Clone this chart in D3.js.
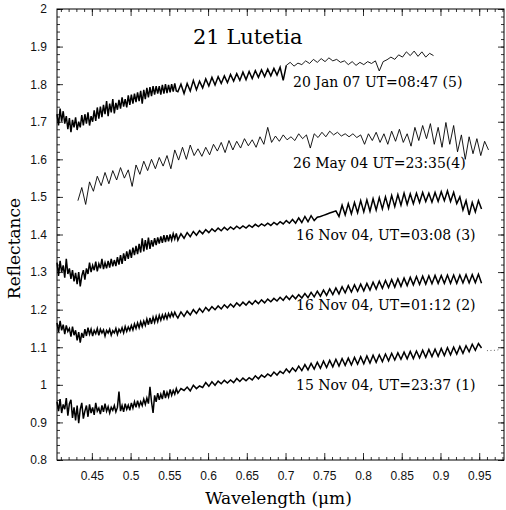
<!DOCTYPE html>
<html>
<head>
<meta charset="utf-8">
<script src="https://d3js.org/d3.v7.min.js"></script>
<style>
  body { margin: 0; background: #fff; }
  .tick text { font-family: "Liberation Sans", Arial, sans-serif; font-size: 12px; fill: #111; }
  .serif { font-family: "DejaVu Serif", serif; fill: #000; }
</style>
</head>
<body>
<div id="chart"></div>
<script>

// ------------------------------------------------------------------------ //
// DATA
// ------------------------------------------------------------------------ //

// wavelength grids (start, step) of the spectra
var gridL = [0.405, 0.002]   // dense blue part
var gridR = [0.561, 0.004]   // red part
var grid4 = [0.432, 0.005]
var grid5b = [0.701, 0.005]

// 15 Nov 04, UT=23:37 (1)
var spec1L = [0.955,0.93,0.962,0.925,0.948,0.935,0.965,0.918,0.95,0.96,
  0.912,0.94,0.905,0.945,0.898,0.935,0.952,0.91,0.93,0.945,
  0.915,0.948,0.925,0.94,0.92,0.952,0.93,0.938,0.922,0.945,
  0.928,0.95,0.93,0.942,0.925,0.94,0.932,0.945,0.928,0.94,
  0.982,0.93,0.945,0.928,0.95,0.935,0.946,0.932,0.952,0.938,
  0.955,0.94,0.958,0.942,0.955,0.945,0.962,0.948,0.965,0.95,
  0.995,0.955,0.925,0.972,0.955,0.978,0.96,0.975,0.962,0.985,
  0.965,0.98,0.968,0.988,0.972,0.985,0.975,0.99]
var spec1R = [0.978,0.99,0.985,0.994,0.984,0.999,0.99,0.997,0.993,1.006,
  0.996,1.008,0.999,1.01,1.003,1.012,1.005,1.013,1.006,1.017,
  1.009,1.018,1.011,1.019,1.013,1.024,1.016,1.026,1.02,1.029,
  1.023,1.034,1.026,1.036,1.03,1.042,1.033,1.045,1.036,1.05,
  1.038,1.054,1.04,1.057,1.042,1.06,1.044,1.063,1.046,1.065,
  1.048,1.068,1.05,1.07,1.052,1.071,1.053,1.073,1.055,1.075,
  1.056,1.077,1.058,1.079,1.06,1.08,1.062,1.082,1.064,1.084,
  1.066,1.085,1.068,1.087,1.069,1.089,1.07,1.09,1.072,1.092,
  1.073,1.094,1.075,1.095,1.076,1.097,1.078,1.099,1.08,1.1,
  1.082,1.102,1.084,1.104,1.088,1.108,1.092,1.11,1.098]

// 16 Nov 04, UT=01:12 (2)
var spec2L = [1.165,1.14,1.17,1.145,1.16,1.135,1.158,1.142,1.15,1.128,
  1.155,1.132,1.145,1.118,1.14,1.112,1.138,1.125,1.148,1.13,
  1.152,1.135,1.148,1.13,1.145,1.136,1.15,1.132,1.148,1.138,
  1.146,1.13,1.145,1.138,1.148,1.132,1.144,1.138,1.15,1.134,
  1.148,1.14,1.152,1.138,1.155,1.142,1.154,1.145,1.158,1.146,
  1.162,1.15,1.165,1.152,1.168,1.155,1.17,1.158,1.175,1.16,
  1.178,1.162,1.18,1.166,1.182,1.168,1.185,1.172,1.186,1.175,
  1.188,1.176,1.19,1.18,1.192,1.182,1.193,1.184]
var spec2R = [1.178,1.194,1.182,1.196,1.186,1.2,1.19,1.203,1.193,1.206,
  1.197,1.208,1.2,1.21,1.202,1.213,1.205,1.215,1.207,1.218,
  1.21,1.22,1.212,1.222,1.214,1.224,1.216,1.226,1.218,1.228,
  1.221,1.23,1.223,1.233,1.225,1.236,1.227,1.238,1.229,1.24,
  1.231,1.243,1.232,1.246,1.234,1.249,1.236,1.252,1.238,1.255,
  1.24,1.258,1.242,1.261,1.245,1.264,1.247,1.266,1.249,1.268,
  1.25,1.27,1.252,1.273,1.255,1.276,1.257,1.278,1.259,1.28,
  1.26,1.282,1.262,1.284,1.264,1.286,1.266,1.288,1.267,1.289,
  1.268,1.29,1.269,1.291,1.27,1.291,1.27,1.292,1.27,1.292,
  1.27,1.292,1.271,1.293,1.271,1.293,1.272,1.294,1.27]

// 16 Nov 04, UT=03:08 (3)
var spec3L = [1.325,1.29,1.33,1.3,1.318,1.285,1.335,1.295,1.31,1.282,
  1.305,1.275,1.298,1.268,1.3,1.262,1.29,1.305,1.28,1.31,
  1.295,1.325,1.3,1.318,1.305,1.328,1.302,1.322,1.31,1.335,
  1.308,1.325,1.31,1.33,1.312,1.335,1.315,1.332,1.316,1.34,
  1.32,1.345,1.322,1.35,1.33,1.355,1.335,1.36,1.338,1.365,
  1.345,1.37,1.348,1.375,1.352,1.39,1.355,1.385,1.36,1.392,
  1.362,1.385,1.368,1.39,1.372,1.392,1.376,1.395,1.378,1.398,
  1.38,1.398,1.382,1.4,1.385,1.402,1.388,1.403]
var spec3R = [1.385,1.402,1.39,1.405,1.394,1.408,1.398,1.41,1.402,1.413,
  1.405,1.415,1.408,1.417,1.41,1.419,1.412,1.42,1.414,1.422,
  1.416,1.423,1.417,1.425,1.419,1.427,1.421,1.428,1.423,1.43,
  1.424,1.432,1.426,1.434,1.428,1.437,1.43,1.44,1.43,1.444,
  1.432,1.448,1.434,1.45,1.437,1.446,1.448,1.451,1.454,1.457,
  1.46,1.463,1.448,1.478,1.452,1.482,1.455,1.485,1.458,1.49,
  1.46,1.492,1.462,1.495,1.465,1.498,1.468,1.5,1.47,1.504,
  1.474,1.506,1.478,1.51,1.48,1.508,1.482,1.51,1.485,1.512,
  1.488,1.51,1.486,1.512,1.488,1.514,1.49,1.516,1.488,1.512,
  1.482,1.5,1.465,1.49,1.452,1.485,1.46,1.49,1.468]

// 26 May 04 UT=23:35(4)
var spec4 = [1.49,1.525,1.48,1.54,1.515,1.555,1.53,1.565,1.535,1.57,
  1.545,1.578,1.55,1.572,1.528,1.585,1.56,1.595,1.57,1.6,
  1.575,1.605,1.582,1.61,1.575,1.625,1.598,1.632,1.6,1.638,
  1.61,1.628,1.608,1.632,1.612,1.64,1.622,1.645,1.618,1.65,
  1.625,1.648,1.63,1.655,1.636,1.652,1.632,1.66,1.64,1.685,
  1.645,1.662,1.648,1.665,1.652,1.66,1.65,1.668,1.655,1.665,
  1.63,1.668,1.658,1.672,1.66,1.675,1.665,1.672,1.662,1.668,
  1.66,1.668,1.658,1.665,1.64,1.668,1.65,1.672,1.645,1.668,
  1.64,1.675,1.648,1.68,1.645,1.668,1.635,1.685,1.65,1.69,
  1.655,1.695,1.64,1.685,1.632,1.698,1.64,1.69,1.62,1.665,
  1.6,1.66,1.615,1.655,1.61,1.648,1.625]

// 20 Jan 07 UT=08:47 (5): dense part, then sparse part
var spec5L = [1.72,1.69,1.735,1.7,1.728,1.695,1.715,1.68,1.71,1.672,
  1.705,1.685,1.712,1.678,1.7,1.685,1.718,1.69,1.72,1.695,
  1.725,1.69,1.715,1.7,1.73,1.702,1.738,1.708,1.74,1.712,
  1.745,1.72,1.755,1.715,1.748,1.725,1.76,1.722,1.75,1.732,
  1.758,1.735,1.765,1.74,1.76,1.738,1.77,1.745,1.772,1.748,
  1.775,1.752,1.778,1.755,1.782,1.748,1.785,1.76,1.79,1.765,
  1.792,1.768,1.795,1.772,1.795,1.775,1.795,1.772,1.798,1.775,
  1.8,1.776,1.798,1.778,1.8,1.78,1.802,1.782]
var spec5R = [1.78,1.8,1.775,1.802,1.782,1.81,1.785,1.808,1.79,1.814,
  1.795,1.818,1.798,1.82,1.802,1.822,1.804,1.826,1.808,1.828,
  1.81,1.832,1.812,1.834,1.815,1.836,1.818,1.838,1.82,1.84,
  1.822,1.842,1.824,1.845,1.81,1.85]
var spec5b = [1.85,1.858,1.848,1.856,1.852,1.862,1.855,1.866,1.858,1.868,
  1.86,1.87,1.862,1.866,1.858,1.862,1.852,1.86,1.85,1.858,
  1.852,1.86,1.855,1.862,1.835,1.86,1.865,1.872,1.866,1.878,
  1.872,1.886,1.876,1.888,1.874,1.886,1.872,1.882,1.876]

// short dotted piece right of spectrum (1)
var tailWl = [0.96, 0.972, 0.978]
var tailVal = [1.091, 1.092, 1.095]

var labels = ["20 Jan 07 UT=08:47 (5)", "26 May 04 UT=23:35(4)",
  "16 Nov 04, UT=03:08 (3)", "16 Nov 04, UT=01:12 (2)", "15 Nov 04, UT=23:37 (1)"]
var xTicks = [0.45, 0.5, 0.55, 0.6, 0.65, 0.7, 0.75, 0.8, 0.85, 0.9, 0.95]
var yTicks = [0.8, 0.9, 1, 1.1, 1.2, 1.3, 1.4, 1.5, 1.6, 1.7, 1.8, 1.9, 2]

// ------------------------------------------------------------------------ //
// SVG AREA
// ------------------------------------------------------------------------ //

var W = 506, H = 510
var margin = {top: 9, right: 2, bottom: 50, left: 57},
  width = W - margin.left - margin.right,
  height = H - margin.top - margin.bottom;

var svg = d3.select("#chart")
.append("svg")
  .attr("width", W)
  .attr("height", H)
.append("g")
  .attr("transform", "translate(" + margin.left + "," + margin.top + ")");

// ------------------------------------------------------------------------ //
// AXIS AND SCALES
// ------------------------------------------------------------------------ //

var x = d3.scaleLinear().domain([0.405, 0.982]).range([0, width])
var y = d3.scaleLinear().domain([0.8, 2]).range([height, 0])

var xMinor = d3.range(41, 99).map(function(d){ return d / 100 })
var yMinor = d3.range(40, 101).map(function(d){ return d / 50 })

function styleAxis(g){
  g.select(".domain").remove()
  g.selectAll(".tick line").attr("stroke", "#000").attr("stroke-width", 0.8)
}

// bottom
svg.append("g").attr("transform", "translate(0," + height + ")")
  .call(d3.axisBottom(x).tickValues(xMinor).tickSize(-3).tickFormat(""))
  .call(styleAxis)
svg.append("g").attr("transform", "translate(0," + height + ")")
  .call(d3.axisBottom(x).tickValues(xTicks).tickSize(-7).tickPadding(11)
    .tickFormat(function(d){ return d3.format("")(d) }))
  .call(styleAxis)
// top
svg.append("g")
  .call(d3.axisTop(x).tickValues(xMinor).tickSize(-3).tickFormat(""))
  .call(styleAxis)
svg.append("g")
  .call(d3.axisTop(x).tickValues(xTicks).tickSize(-7).tickFormat(""))
  .call(styleAxis)
// left
svg.append("g")
  .call(d3.axisLeft(y).tickValues(yMinor).tickSize(-3).tickFormat(""))
  .call(styleAxis)
svg.append("g")
  .call(d3.axisLeft(y).tickValues(yTicks).tickSize(-6).tickPadding(10)
    .tickFormat(function(d){ return d3.format("")(d) }))
  .call(styleAxis)
// right
svg.append("g").attr("transform", "translate(" + width + ",0)")
  .call(d3.axisRight(y).tickValues(yMinor).tickSize(-3).tickFormat(""))
  .call(styleAxis)
svg.append("g").attr("transform", "translate(" + width + ",0)")
  .call(d3.axisRight(y).tickValues(yTicks).tickSize(-6).tickFormat(""))
  .call(styleAxis)

// frame
svg.append("rect")
  .attr("width", width)
  .attr("height", height)
  .attr("fill", "none")
  .attr("stroke", "#000")
  .attr("stroke-width", 1)

// ------------------------------------------------------------------------ //
// SPECTRA
// ------------------------------------------------------------------------ //

function toPoints(vals, g){
  return vals.map(function(v, i){ return [g[0] + i * g[1], v] })
}

var line = d3.line()
  .x(function(d){ return x(d[0]) })
  .y(function(d){ return y(d[1]) })

var spectra = [
  {pts: toPoints(spec1L, gridL).concat(toPoints(spec1R, gridR)), w: 1.5},
  {pts: toPoints(spec2L, gridL).concat(toPoints(spec2R, gridR)), w: 1.5},
  {pts: toPoints(spec3L, gridL).concat(toPoints(spec3R, gridR)), w: 1.5},
  {pts: toPoints(spec4, grid4), w: 0.9},
  {pts: toPoints(spec5L, gridL).concat(toPoints(spec5R, gridR)), w: 1.5},
  {pts: toPoints(spec5b, grid5b), w: 0.9}
]

svg.selectAll(".spec")
  .data(spectra)
  .enter()
  .append("path")
    .attr("class", "spec")
    .attr("d", function(d){ return line(d.pts) })
    .attr("fill", "none")
    .attr("stroke", "#000")
    .attr("stroke-width", function(d){ return d.w })
    .attr("stroke-linejoin", "miter")

svg.append("path")
  .attr("d", line(tailWl.map(function(w, i){ return [w, tailVal[i]] })))
  .attr("fill", "none")
  .attr("stroke", "#444")
  .attr("stroke-width", 0.8)
  .attr("stroke-dasharray", "1,2.5")

// ------------------------------------------------------------------------ //
// TEXTS
// ------------------------------------------------------------------------ //

svg.append("text")
  .attr("class", "serif")
  .attr("x", 136)
  .attr("y", 35)
  .style("font-size", "21px")
  .text("21 Lutetia")

var labelPos = [[236, 78], [236, 159], [239, 231], [239, 301], [239, 381]]
svg.selectAll(".lab")
  .data(labels)
  .enter()
  .append("text")
    .attr("class", "serif lab")
    .attr("x", function(d, i){ return labelPos[i][0] })
    .attr("y", function(d, i){ return labelPos[i][1] })
    .style("font-size", "14px")
    .text(function(d){ return d })

svg.append("text")
  .attr("class", "serif")
  .attr("x", width / 2 - 2)
  .attr("y", height + 44)
  .attr("text-anchor", "middle")
  .style("font-size", "17px")
  .text("Wavelength (μm)")

svg.append("text")
  .attr("class", "serif")
  .attr("transform", "translate(-37," + (height / 2 + 14) + ")rotate(-90)")
  .attr("text-anchor", "middle")
  .style("font-size", "17px")
  .text("Reflectance")

</script>
</body>
</html>
